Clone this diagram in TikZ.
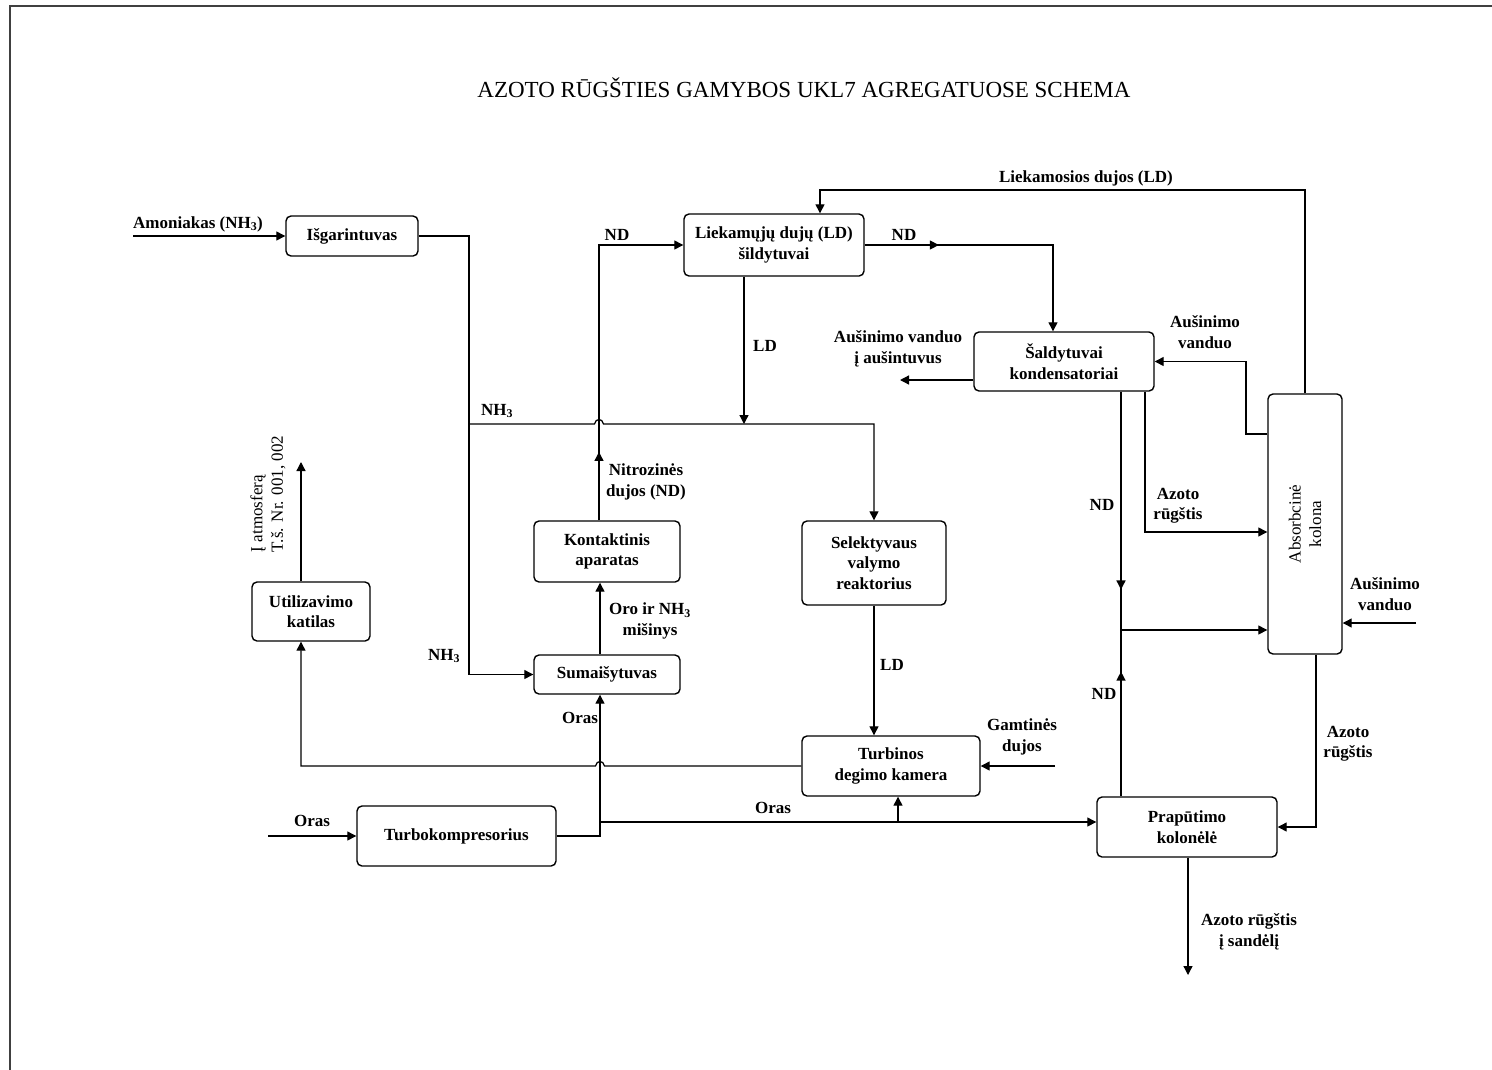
\documentclass[tikz,border=0pt]{standalone}
\usepackage{fontspec}
\setmainfont{Liberation Serif}
\usetikzlibrary{arrows.meta,decorations.markings}

\newcommand\lblfont{\fontsize{17}{20.5}\selectfont\bfseries}
\newcommand\plainfont{\fontsize{17}{20.5}\selectfont}

\tikzset{
  unit/.style={draw, rounded corners=5pt, line width=1.4pt, align=center,
               inner sep=2pt, font=\lblfont},
  wire/.style={line width=1.3pt},
  flow/.style={wire, -{Triangle[length=9pt,width=9pt]}},
  midarr/.style={postaction={decorate,decoration={markings,
      mark=at position #1 with {\arrow{Triangle[length=9pt,width=9pt]}}}}},
  lab/.style={align=center, font=\lblfont, inner sep=0pt},
}

\begin{document}
\begin{tikzpicture}[x=1pt,y=-1pt]
\useasboundingbox (0,0) rectangle (1492,1069);

% page frame
\draw[line width=2.5pt, black!75] (10,1080) -- (10,6) -- (1500,6);

% title
\node[font=\fontsize{23}{26}\selectfont] (title) at (804,88)
  {AZOTO RŪGŠTIES GAMYBOS UKL7 AGREGATUOSE SCHEMA};

% process units
\node[unit, minimum width=132pt, minimum height=40pt] (isg) at (352,236) {Išgarintuvas};
\node[unit, minimum width=180pt, minimum height=62pt] (liek) at (774,245) {Liekamųjų dujų (LD)\\šildytuvai};
\node[unit, minimum width=180pt, minimum height=59pt] (sald) at (1064,361.5) {Šaldytuvai\\kondensatoriai};
\node[unit, minimum width=74pt, minimum height=260pt] (abs) at (1305,524) {};
\node[lab, font=\plainfont, rotate=90] (abslab) at (abs.center) {Absorbcinė\\kolona};
\node[unit, minimum width=146pt, minimum height=61pt] (kont) at (607,551.5) {Kontaktinis\\aparatas};
\node[unit, minimum width=144pt, minimum height=84pt] (sel) at (874,563) {Selektyvaus\\valymo\\reaktorius};
\node[unit, minimum width=118pt, minimum height=59pt] (util) at (311,611.5) {Utilizavimo\\katilas};
\node[unit, minimum width=146pt, minimum height=39pt] (sum) at (607,674.5) {Sumaišytuvas};
\node[unit, minimum width=178pt, minimum height=60pt] (turb) at (891,766) {Turbinos\\degimo kamera};
\node[unit, minimum width=199pt, minimum height=60pt] (tk) at (456.5,836) {Turbokompresorius};
\node[unit, minimum width=180pt, minimum height=60pt] (prap) at (1187,827) {Prapūtimo\\kolonėlė};

% turning points and free ends
\coordinate (nh3in) at (133,236);
\coordinate (nhtop) at (469,236);
\coordinate (nhj)   at (469,424);
\coordinate (nhbot) at (469,674.5);
\coordinate (ndtop) at (599,245);
\coordinate (ldj)   at (744,424);
\coordinate (ndr)   at (1053,245);
\coordinate (lda)   at (1305,190);
\coordinate (ldb)   at (820,190);
\coordinate (cwout) at (900,380);
\coordinate (cwa)   at (1246,434);
\coordinate (cwb)   at (1246,361.5);
\coordinate (ndj)   at (1121,630);
\coordinate (naa)   at (1145,532);
\coordinate (cwin)  at (1416,623);
\coordinate (nab)   at (1316,827);
\coordinate (prod)  at (1188,975);
\coordinate (airin) at (268,836);
\coordinate (aira)  at (600,836);
\coordinate (airb)  at (600,822);
\coordinate (airc)  at (898,822);
\coordinate (fga)   at (301,766);
\coordinate (stack) at (301,462);
\coordinate (ngin)  at (1055,766);

% ammonia
\draw[flow] (nh3in) -- (isg.west);
\draw[flow] (isg.east) -- (nhtop) -- (nhbot) -- (sum.west);
\draw[flow] (nhj) -- (594.5,424) .. controls (595.5,418) and (602.5,418) .. (603.5,424)
  -- (sel.north |- nhj) -- (sel.north);

% nitrous gases
\draw[flow, midarr=0.19] (kont.north -| ndtop) -- (ndtop) -- (liek.west);
\draw[flow, midarr=0.27] (liek.east) -- (ndr) -- (sald.north -| ndr);
\draw[wire, midarr=0.83] (sald.south -| ndj) -- (ndj);
\draw[wire, midarr=0.75] (prap.north -| ndj) -- (ndj);
\draw[flow] (ndj) -- (abs.west |- ndj);

% residual gases
\draw[flow] (liek.south -| ldj) -- (ldj);
\draw[flow] (abs.north) -- (lda) -- (ldb) -- (liek.north -| ldb);
\draw[flow] (sel.south) -- (turb.north -| sel.south);

% cooling water
\draw[flow] (sald.west |- cwout) -- (cwout);
\draw[flow] (abs.west |- cwa) -- (cwa) -- (cwb) -- (sald.east);
\draw[flow] (cwin) -- (abs.east |- cwin);

% nitric acid
\draw[flow] (sald.south -| naa) -- (naa) -- (abs.west |- naa);
\draw[flow] (abs.south -| nab) -- (nab) -- (prap.east);
\draw[flow] (prap.south -| prod) -- (prod);

% air
\draw[flow] (airin) -- (tk.west);
\draw[flow] (tk.east) -- (aira) -- (sum.south -| aira);
\draw[flow] (airb) -- (prap.west |- airb);
\draw[flow] (airc) -- (turb.south -| airc);
\draw[flow] (sum.north -| aira) -- (kont.south -| aira);

% flue gas, stack and natural gas
\draw[flow] (turb.west) -- (604.5,766) .. controls (603.5,760) and (596.5,760) .. (595.5,766)
  -- (fga) -- (util.south -| fga);
\draw[flow] (util.north -| stack) -- (stack);
\draw[flow] (ngin) -- (turb.east);

% stream labels
\node[lab, anchor=base west] (lamon) at (133,228) {Amoniakas (NH\textsubscript{3})};
\node[lab] (lnh1) at (497,411) {NH\textsubscript{3}};
\node[lab] (lnh2) at (444,656) {NH\textsubscript{3}};
\node[lab] (lnd1) at (617,235) {ND};
\node[lab] (lnd2) at (904,235) {ND};
\node[lab] (lld1) at (765,346) {LD};
\node[lab] (lld2) at (892,665) {LD};
\node[lab] (lres) at (1086,178) {Liekamosios dujos (LD)};
\node[lab] (lcw1) at (898,349) {Aušinimo vanduo\\į aušintuvus};
\node[lab] (lcw2) at (1205,332) {Aušinimo\\vanduo};
\node[lab] (lcw3) at (1385,594) {Aušinimo\\vanduo};
\node[lab] (lnitro) at (646,482) {Nitrozinės\\dujos (ND)};
\node[lab] (lnd3) at (1102,505) {ND};
\node[lab] (lnd4) at (1104,694) {ND};
\node[lab] (lna1) at (1178,506) {Azoto\\rūgštis};
\node[lab] (lna2) at (1348,744) {Azoto\\rūgštis};
\node[lab] (lna3) at (1249,932) {Azoto rūgštis\\į sandėlį};
\node[lab] (lmix) at (650,621) {Oro ir NH\textsubscript{3}\\mišinys};
\node[lab] (lair1) at (580,718) {Oras};
\node[lab] (lair2) at (773,808) {Oras};
\node[lab] (lair3) at (312,821) {Oras};
\node[lab] (lgas) at (1022,737) {Gamtinės\\dujos};
\node[lab, font=\plainfont, rotate=90, align=left] (latm) at (268,494)
  {Į atmosferą\\T.š. Nr. 001, 002};

\end{tikzpicture}
\end{document}
